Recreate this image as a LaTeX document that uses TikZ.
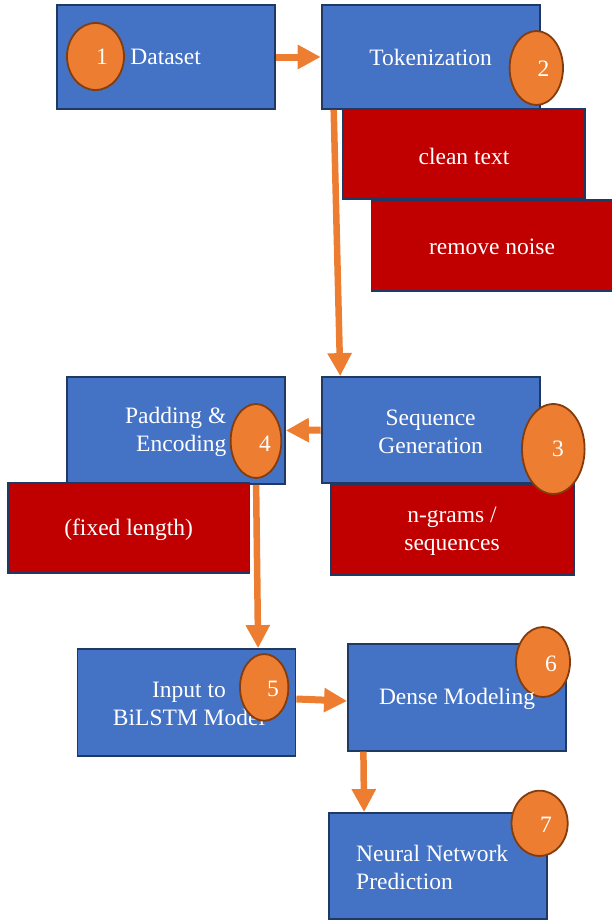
\documentclass[tikz,border=0pt]{standalone}
\usepackage{fontspec}
\setmainfont{Liberation Serif}
\usetikzlibrary{arrows.meta,shapes.geometric}
\definecolor{boxblue}{HTML}{4472C4}
\definecolor{boxline}{HTML}{1F3864}
\definecolor{boxred}{HTML}{C00000}
\definecolor{orng}{HTML}{ED7D31}
\definecolor{orngline}{HTML}{843C0C}
\begin{document}
\begin{tikzpicture}[x=1pt,y=-1pt,
  bbox/.style={draw=boxline, line width=1.8pt, fill=boxblue, inner sep=0pt},
  rbox/.style={draw=boxline, line width=1.8pt, fill=boxred, inner sep=0pt},
  txt/.style={text=white, font=\fontsize{23.5}{28}\selectfont, inner sep=0pt, align=center},
  numc/.style={ellipse, draw=orngline, line width=1.8pt, fill=orng, inner sep=0pt},
  numt/.style={text=white, font=\fontsize{23.5}{28}\selectfont, inner sep=0pt},
  arr/.style={draw=orng, line width=7pt, -{Triangle[length=23pt,width=23pt]}}]
\useasboundingbox (0,0) rectangle (611,921);

% Step 1
\node[bbox, minimum width=218pt, minimum height=104pt] (ds) at (165.6,57) {};
\node[txt] (dst) at (165.6,57) {Dataset};
\node[numc, minimum width=57pt, minimum height=67pt] (c1) at (95.5,56.5) {};
\node[numt] (n1) at (102,57) {1};

% Step 2
\node[bbox, minimum width=218pt, minimum height=104pt] (tok) at (430.6,57) {};
\node[txt] (tokt) at (430.6,57) {Tokenization};
\node[rbox, minimum width=242pt, minimum height=90pt] (clean) at (464,154) {};
\node[txt] (cleant) at (464,156) {clean text};
\node[rbox, minimum width=242pt, minimum height=91pt] (noise) at (492.5,245.5) {};
\node[txt] (noiset) at (492,247) {remove noise};
\node[numc, minimum width=53.4pt, minimum height=74pt] (c2) at (536.3,68) {};
\node[numt] (n2) at (543.6,69) {2};

% Step 4
\node[bbox, minimum width=218pt, minimum height=107pt] (pad) at (176,430.5) {};
\node[txt, align=right, anchor=east] (padt) at (226.5,432) {Padding \&\\Encoding};
\node[rbox, minimum width=241.4pt, minimum height=90pt] (fixed) at (128.7,528) {};
\node[txt] (fixedt) at (128.6,530) {(fixed length)};
\node[numc, minimum width=50.7pt, minimum height=74pt] (c4) at (256,441) {};
\node[numt] (n4) at (265,443.3) {4};

% Step 3
\node[bbox, minimum width=218pt, minimum height=106pt] (seq) at (430.6,430) {};
\node[txt] (seqt) at (430.6,432) {Sequence\\Generation};
\node[rbox, minimum width=242.6pt, minimum height=91pt] (ngram) at (452.3,529.5) {};
\node[txt] (ngramt) at (452,531) {n-grams /\\sequences};
\node[numc, minimum width=62.6pt, minimum height=90pt] (c3) at (553.3,449) {};
\node[numt] (n3) at (558,449.3) {3};

% Step 5
\node[bbox, minimum width=218pt, minimum height=107pt] (inp) at (186.5,702.5) {};
\node[txt] (inpt) at (189,703.5) {Input to\\BiLSTM Model};
\node[numc, minimum width=48.4pt, minimum height=66.7pt] (c5) at (264.2,687.4) {};
\node[numt] (n5) at (273,689) {5};

% Step 6
\node[bbox, minimum width=218pt, minimum height=106.7pt] (dense) at (457,697.3) {};
\node[numc, minimum width=54pt, minimum height=70pt] (c6) at (543,662) {};
\node[numt] (n6) at (551,664) {6};
\node[txt] (denset) at (457,699) {Dense Modeling};

% Step 7
\node[bbox, minimum width=218pt, minimum height=106pt] (neural) at (438,866) {};
\node[txt, align=left, anchor=west] (neuralt) at (356,867) {Neural Network\\Prediction};
\node[numc, minimum width=56.2pt, minimum height=65.3pt] (c7) at (539.6,823.3) {};
\node[numt] (n7) at (546,825) {7};

% Connectors
\draw[arr] (ds.east) -- (tok.west);
\draw[arr, line width=6.5pt] ([xshift=13pt]tok.south west) -- ([xshift=19.5pt]seq.north west);
\draw[arr] (seq.west) -- (pad.east);
\draw[arr, line width=6.5pt] ([xshift=190pt]pad.south west) -- ([xshift=181.5pt]inp.north west);
\draw[arr] ([yshift=3.5pt]inp.east) -- ([yshift=-3.7pt]dense.west);
\draw[arr, line width=6.5pt] ([xshift=16.3pt]dense.south west) -- ([xshift=36pt]neural.north west);
\end{tikzpicture}
\end{document}
